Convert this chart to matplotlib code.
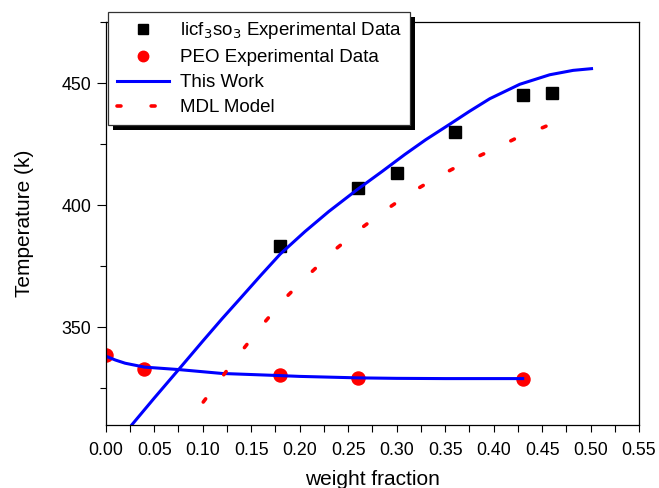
import matplotlib
matplotlib.use('Agg')
import matplotlib.pyplot as plt
import matplotlib.patheffects as pe
from matplotlib.ticker import MultipleLocator, FormatStrFormatter

plt.rcParams['font.family'] = ['Liberation Sans', 'DejaVu Sans']

# licf3so3 experimental data
salt_w = [0.18, 0.26, 0.30, 0.36, 0.43, 0.46]
salt_t = [383.1, 407.1, 413.0, 430.0, 445.1, 446.1]

# PEO experimental data
peo_w = [0.0, 0.04, 0.18, 0.26, 0.43]
peo_t = [338.5, 333.0, 330.3, 329.2, 329.0]

# this work, salt branch
work_w = [0.0268, 0.05, 0.0752, 0.10, 0.12, 0.1385, 0.16, 0.18, 0.2055, 0.23,
          0.2594, 0.285, 0.3086, 0.33, 0.355, 0.375, 0.3961, 0.427, 0.4579,
          0.482, 0.501]
work_t = [310.0, 321.0, 332.7, 344.3, 353.5, 361.7, 371.3, 380.0, 389.2, 397.4,
          406.4, 413.8, 420.8, 426.8, 433.2, 438.4, 443.6, 449.5, 453.4,
          455.2, 455.9]

# this work, PEO branch
work_peo_w = [0.0, 0.01, 0.02, 0.04, 0.0752, 0.12, 0.175, 0.20, 0.26, 0.30, 0.35, 0.43]
work_peo_t = [338.2, 336.6, 335.3, 333.7, 332.7, 331.1, 330.3, 329.9, 329.3, 329.1, 329.0, 329.0]

# MDL model
mdl_w = [0.1006, 0.1206, 0.1409, 0.1618, 0.1852, 0.2106, 0.2374, 0.2639,
         0.2907, 0.3171, 0.3439, 0.371, 0.398, 0.4247, 0.4515, 0.4784]
mdl_t = [319.4, 330.0, 340.6, 351.1, 362.0, 372.0, 382.1, 390.7,
         398.6, 405.7, 411.9, 417.6, 422.5, 427.7, 431.9, 436.5]

fig = plt.figure(figsize=(6.59, 4.88), dpi=100)
ax = fig.add_axes([0.1604, 0.1291, 0.8093, 0.8258])

ax.plot(salt_w, salt_t, 's', color='black', markersize=8.6, linestyle='none',
        label='licf$_3$so$_3$ Experimental Data')
ax.plot(peo_w, peo_t, 'o', color='#ff0000', markersize=9.4, linestyle='none',
        label='PEO Experimental Data')
ax.plot(work_w, work_t, color='#0000ff', lw=2.2, label='This Work')
ax.plot(work_peo_w, work_peo_t, color='#0000ff', lw=2.2)
ax.plot(mdl_w, mdl_t, color='#ff0000', lw=2.6, linestyle=(0, (1.1, 8.35)),
        dash_capstyle='round', label='MDL Model')

ax.set_xlim(0, 0.55)
ax.set_ylim(310, 475)
ax.xaxis.set_major_locator(MultipleLocator(0.05))
ax.xaxis.set_minor_locator(MultipleLocator(0.025))
ax.xaxis.set_major_formatter(FormatStrFormatter('%.2f'))
ax.yaxis.set_major_locator(MultipleLocator(50))
ax.yaxis.set_minor_locator(MultipleLocator(25))
ax.tick_params(axis='x', which='both', direction='out', length=5, width=0.8,
               labelsize=12.8, pad=7.5)
ax.tick_params(axis='y', which='major', direction='out', length=6.5, width=0.8,
               labelsize=12.8, pad=4)
ax.tick_params(axis='y', which='minor', direction='out', length=4.3, width=0.8)
for s in ax.spines.values():
    s.set_linewidth(0.9)
    s.set_color('black')

ax.set_xlabel('weight fraction', fontsize=15, labelpad=8)
ax.set_ylabel('Temperature (k)', fontsize=15, labelpad=19.5)

leg = ax.legend(loc='upper left', bbox_to_anchor=(108.3 / 659, 1 - 11.7 / 488),
                bbox_transform=fig.transFigure, borderaxespad=0, fontsize=13.5,
                frameon=True, fancybox=False, framealpha=1, edgecolor='#333333',
                handlelength=2.8, handletextpad=0.55, labelspacing=0.42,
                borderpad=0.45, markerscale=0.8)
leg.get_frame().set_linewidth(0.9)
leg.get_frame().set_path_effects([
    pe.SimplePatchShadow(offset=(3.6, -3.6), shadow_rgbFace='black', alpha=1),
    pe.Normal()])

fig.savefig('out.png', dpi=100)
